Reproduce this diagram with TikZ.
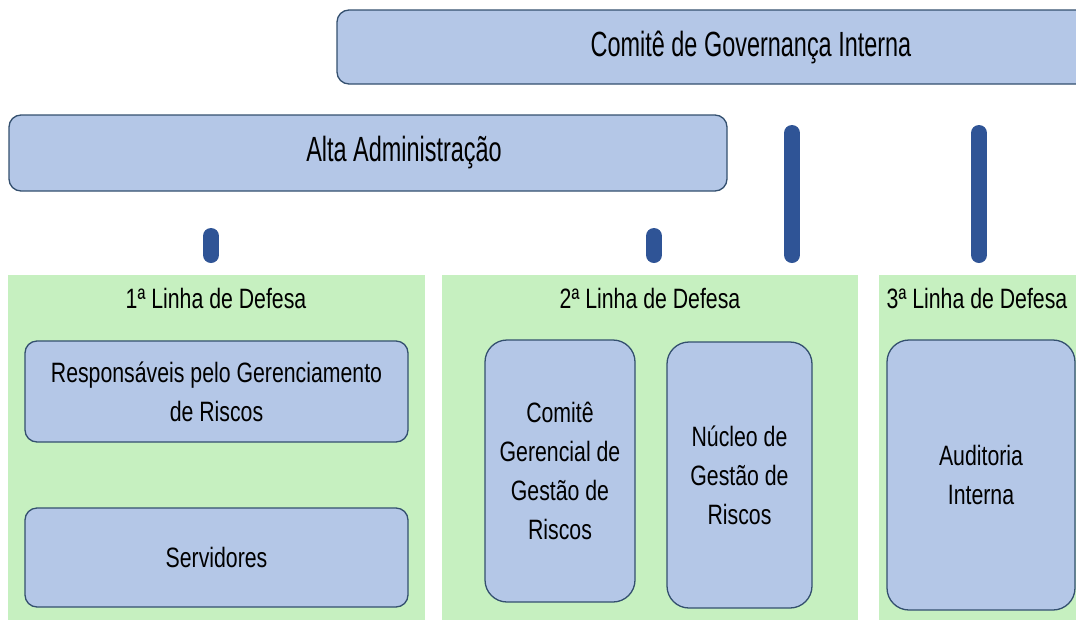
\documentclass[tikz,border=0pt]{standalone}
\usepackage{fontspec}
\setmainfont{Liberation Sans}
\newfontfamily\fontegrande{Liberation Sans}[FakeStretch=0.67]
\newfontfamily\fontecorpo{Liberation Sans}[FakeStretch=0.76]
\usepackage{xcolor}
\usepackage{tikz}

\definecolor{azulclaro}{HTML}{B4C7E7}
\definecolor{azulborda}{HTML}{34506F}
\definecolor{verdeclaro}{HTML}{C6F0C0}
\definecolor{azulbarra}{HTML}{2F5496}

\begin{document}
\begin{tikzpicture}[x=1pt,y=-1pt,
        caixa/.style={draw=azulborda, line width=1.3pt, fill=azulclaro, rounded corners=12pt, inner sep=0pt},
        caixaalta/.style={caixa, rounded corners=22pt},
        painel/.style={fill=verdeclaro, inner sep=0pt},
        grande/.style={font=\fontegrande\fontsize{35}{40}\selectfont},
        corpo/.style={font=\fontecorpo\fontsize{28}{39}\selectfont, align=center},
        barra/.style={draw=azulbarra, line width=16pt, line cap=round}]
        \useasboundingbox (0,0) rectangle (1076,619);

        % topo
        \node[caixa, grande, minimum width=828pt, minimum height=74pt] (comite) at (751,47) {Comit\^e de Governan\c{c}a Interna};
        \node[caixa, minimum width=718pt, minimum height=76pt] (alta) at (368,153) {};
        \node[grande] (altatexto) at (404,153) {Alta Administra\c{c}\~ao};

        % linhas de defesa
        \node[painel, minimum width=417pt, minimum height=350pt] (painel1) at (216.5,450) {};
        \node[painel, minimum width=416pt, minimum height=350pt] (painel2) at (650,450) {};
        \node[painel, minimum width=211pt, minimum height=350pt] (painel3) at (984.5,450) {};

        \node[corpo] (titulo1) at (216,298) {1ª Linha de Defesa};
        \node[corpo] (titulo2) at (650,298) {2ª Linha de Defesa};
        \node[corpo] (titulo3) at (977,298) {3ª Linha de Defesa};

        \node[caixa, corpo, minimum width=383pt, minimum height=101pt] (resp) at (216.5,391.5) {Respons\'aveis pelo Gerenciamento\\de Riscos};
        \node[caixa, corpo, minimum width=383pt, minimum height=99pt] (serv) at (216.5,557.5) {Servidores};
        \node[caixaalta, corpo, minimum width=150pt, minimum height=262pt] (cgr) at (560,471) {Comit\^e\\Gerencial de\\Gest\~ao de\\Riscos};
        \node[caixaalta, corpo, minimum width=145pt, minimum height=266pt] (nucleo) at (739.5,475) {N\'ucleo de\\Gest\~ao de\\Riscos};
        \node[caixaalta, corpo, minimum width=188pt, minimum height=270pt] (auditoria) at (981,475) {Auditoria\\Interna};

        % barras
        \coordinate (b1) at (211,255);
        \coordinate (t1) at (211,236);
        \coordinate (b2) at (654,255);
        \coordinate (t2) at (654,236);
        \coordinate (b3) at (792,255);
        \coordinate (t3) at (792,133);
        \coordinate (b4) at (979,255);
        \coordinate (t4) at (979,133);
        \draw[barra] (b1) -- (t1);
        \draw[barra] (b2) -- (t2);
        \draw[barra] (b3) -- (t3);
        \draw[barra] (b4) -- (t4);
\end{tikzpicture}
\end{document}
